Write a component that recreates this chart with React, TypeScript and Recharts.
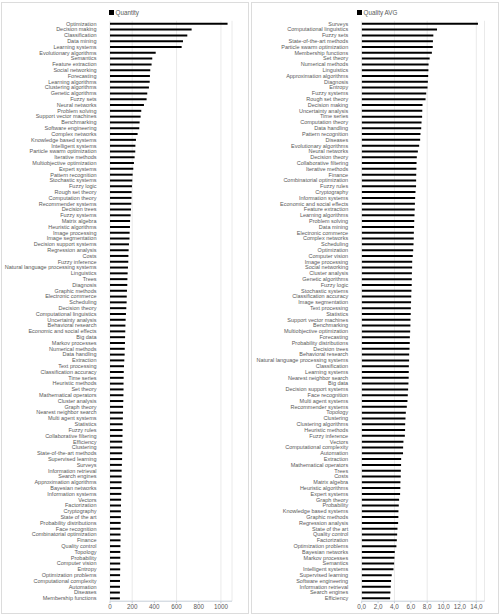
import React from "react";
import { BarChart, Bar, XAxis, YAxis, CartesianGrid, Legend } from "recharts";

// Topics ranked by number of papers
const quantityTopics = [
  "Optimization", "Decision making", "Classification", "Data mining", "Learning systems",
  "Evolutionary algorithms", "Semantics", "Feature extraction", "Social networking", "Forecasting",
  "Learning algorithms", "Clustering algorithms", "Genetic algorithms", "Fuzzy sets", "Neural networks",
  "Problem solving", "Support vector machines", "Benchmarking", "Software engineering", "Complex networks",
  "Knowledge based systems", "Intelligent systems", "Particle swarm optimization", "Iterative methods", "Multiobjective optimization",
  "Expert systems", "Pattern recognition", "Stochastic systems", "Fuzzy logic", "Rough set theory",
  "Computation theory", "Recommender systems", "Decision trees", "Fuzzy systems", "Matrix algebra",
  "Heuristic algorithms", "Image processing", "Image segmentation", "Decision support systems", "Regression analysis",
  "Costs", "Fuzzy inference", "Natural language processing systems", "Linguistics", "Trees",
  "Diagnosis", "Graphic methods", "Electronic commerce", "Scheduling", "Decision theory",
  "Computational linguistics", "Uncertainty analysis", "Behavioral research", "Economic and social effects", "Big data",
  "Markov processes", "Numerical methods", "Data handling", "Extraction", "Text processing",
  "Classification accuracy", "Time series", "Heuristic methods", "Set theory", "Mathematical operators",
  "Cluster analysis", "Graph theory", "Nearest neighbor search", "Multi agent systems", "Statistics",
  "Fuzzy rules", "Collaborative filtering", "Efficiency", "Clustering", "State-of-the-art methods",
  "Supervised learning", "Surveys", "Information retrieval", "Search engines", "Approximation algorithms",
  "Bayesian networks", "Information systems", "Vectors", "Factorization", "Cryptography",
  "State of the art", "Probability distributions", "Face recognition", "Combinatorial optimization", "Finance",
  "Quality control", "Topology", "Probability", "Computer vision", "Entropy",
  "Optimization problems", "Computational complexity", "Automation", "Diseases", "Membership functions",
];

const quantityValues = [
  1060, 736, 697, 658, 646,
  412, 381, 375, 363, 360,
  358, 351, 336, 330, 306,
  282, 276, 267, 264, 249,
  234, 229, 228, 222, 216,
  210, 204, 201, 198, 195,
  194, 192, 189, 186, 181,
  180, 177, 176, 171, 168,
  166, 165, 162, 159, 157,
  156, 153, 151, 150, 147,
  144, 141, 139, 138, 136,
  135, 133, 132, 129, 126,
  124, 123, 122, 122, 121,
  120, 118, 117, 116, 114,
  113, 113, 111, 110, 110,
  109, 107, 105, 105, 104,
  104, 102, 100, 99, 98,
  98, 96, 96, 95, 95,
  94, 93, 93, 92, 92,
  91, 90, 90, 89, 89,
];

// Topics ranked by average quality
const qualityTopics = [
  "Surveys", "Computational linguistics", "Fuzzy sets", "State-of-the-art methods", "Particle swarm optimization",
  "Membership functions", "Set theory", "Numerical methods", "Linguistics", "Approximation algorithms",
  "Diagnosis", "Entropy", "Fuzzy systems", "Rough set theory", "Decision making",
  "Uncertainty analysis", "Time series", "Computation theory", "Data handling", "Pattern recognition",
  "Diseases", "Evolutionary algorithms", "Neural networks", "Decision theory", "Collaborative filtering",
  "Iterative methods", "Finance", "Combinatorial optimization", "Fuzzy rules", "Cryptography",
  "Information systems", "Economic and social effects", "Feature extraction", "Learning algorithms", "Problem solving",
  "Data mining", "Electronic commerce", "Complex networks", "Scheduling", "Optimization",
  "Computer vision", "Image processing", "Social networking", "Cluster analysis", "Genetic algorithms",
  "Fuzzy logic", "Stochastic systems", "Classification accuracy", "Image segmentation", "Text processing",
  "Statistics", "Support vector machines", "Benchmarking", "Multiobjective optimization", "Forecasting",
  "Probability distributions", "Decision trees", "Behavioral research", "Natural language processing systems", "Classification",
  "Learning systems", "Nearest neighbor search", "Big data", "Decision support systems", "Face recognition",
  "Multi agent systems", "Recommender systems", "Topology", "Clustering", "Clustering algorithms",
  "Heuristic methods", "Fuzzy inference", "Vectors", "Computational complexity", "Automation",
  "Extraction", "Mathematical operators", "Trees", "Costs", "Matrix algebra",
  "Heuristic algorithms", "Expert systems", "Graph theory", "Probability", "Knowledge based systems",
  "Graphic methods", "Regression analysis", "State of the art", "Quality control", "Factorization",
  "Optimization problems", "Bayesian networks", "Markov processes", "Semantics", "Intelligent systems",
  "Supervised learning", "Software engineering", "Information retrieval", "Search engines", "Efficiency",
];

const qualityValues = [
  14.2, 9.2, 8.75, 8.7, 8.68,
  8.57, 8.3, 8.17, 8.15, 8.12,
  8.08, 8.04, 7.88, 7.8, 7.43,
  7.4, 7.38, 7.31, 7.27, 7.18,
  7.14, 7.02, 6.86, 6.73, 6.7,
  6.68, 6.66, 6.65, 6.64, 6.57,
  6.53, 6.5, 6.48, 6.45, 6.42,
  6.4, 6.37, 6.36, 6.33, 6.29,
  6.24, 6.17, 6.16, 6.13, 6.12,
  6.11, 6.08, 6.05, 6.03, 6.0,
  5.99, 5.96, 5.95, 5.92, 5.88,
  5.87, 5.84, 5.8, 5.79, 5.76,
  5.75, 5.74, 5.71, 5.67, 5.63,
  5.59, 5.51, 5.39, 5.35, 5.31,
  5.3, 5.27, 5.1, 5.06, 5.05,
  4.82, 4.81, 4.78, 4.77, 4.73,
  4.72, 4.69, 4.57, 4.53, 4.49,
  4.48, 4.45, 4.37, 4.33, 4.29,
  4.24, 4.04, 4.0, 3.96, 3.88,
  3.67, 3.59, 3.55, 3.51, 3.47,
];

const quantityTicks = [0, 200, 400, 600, 800, 1000];
const qualityTicks = [0, 2, 4, 6, 8, 10, 12, 14];

const FONT = "'Liberation Sans', Arial, sans-serif";
const TEXT = "#595959";

type PanelProps = {
  left: number;
  topics: string[];
  values: number[];
  seriesName: string;
  domainMax: number;
  ticks: number[];
  formatTick: (v: number) => string;
  axisWidth: number;
  rightMargin: number;
  legendLeft: number;
};

function LegendSwatch({ label }: { label: string }) {
  return (
    <div style={{ display: "flex", alignItems: "center", fontFamily: FONT, fontSize: 6.3, color: TEXT, whiteSpace: "nowrap" }}>
      <span style={{ display: "inline-block", width: 4.5, height: 4.5, background: "#000", marginRight: 2 }} />
      {label}
    </div>
  );
}

// Single-line category label (no wrapping)
function TopicTick(props: any) {
  const { x, y, payload } = props;
  return (
    <text x={x - 2.5} y={y} dy="0.35em" textAnchor="end" fontSize={5.5} fill={TEXT} fontFamily={FONT}>
      {payload.value}
    </text>
  );
}

function Panel(p: PanelProps) {
  const rows = p.topics.map((topic, i) => ({ topic, value: p.values[i] }));
  return (
    <div style={{ position: "absolute", left: p.left, top: 0, width: 250, height: 615 }}>
      <BarChart
        width={250}
        height={615}
        data={rows}
        layout="vertical"
        barCategoryGap="34%"
        margin={{ top: 20.8, right: p.rightMargin, bottom: 1.8, left: 0 }}
      >
        <CartesianGrid horizontal={false} stroke="#e4e4e4" strokeWidth={0.8} />
        <XAxis
          type="number"
          domain={[0, p.domainMax]}
          ticks={p.ticks}
          allowDataOverflow
          tickFormatter={p.formatTick}
          height={12}
          tickSize={2}
          tickMargin={1}
          stroke="#c5ced8"
          tick={{ fontSize: 6.3, fill: TEXT, fontFamily: FONT }}
        />
        <YAxis
          type="category"
          dataKey="topic"
          width={p.axisWidth}
          interval={0}
          axisLine={false}
          tickLine={false}
          tickMargin={5}
          tick={<TopicTick />}
        />
        <Legend
          layout="horizontal"
          verticalAlign="middle"
          align="center"
          wrapperStyle={{ top: 9, left: p.legendLeft, width: "auto" }}
          content={() => <LegendSwatch label={p.seriesName} />}
        />
        <Bar dataKey="value" name={p.seriesName} fill="#000000" isAnimationActive={false} />
      </BarChart>
    </div>
  );
}

export default function App() {
  return (
    <div style={{ position: "absolute", left: 0, top: 0, width: 500, height: 615, background: "#fff" }}>
      <div style={{ position: "absolute", left: 1, top: 2, width: 246, height: 610, border: "1px solid #dcdcdc" }} />
      <div style={{ position: "absolute", left: 251, top: 2, width: 246, height: 610, border: "1px solid #dcdcdc" }} />
      <Panel
        left={0}
        topics={quantityTopics}
        values={quantityValues}
        seriesName="Quantity"
        domainMax={1100}
        ticks={quantityTicks}
        formatTick={(v) => String(v)}
        axisWidth={110}
        rightMargin={18}
        legendLeft={109}
      />
      <Panel
        left={250}
        topics={qualityTopics}
        values={qualityValues}
        seriesName="Quality AVG"
        domainMax={15}
        ticks={qualityTicks}
        formatTick={(v) => v.toFixed(1).replace(".", ",")}
        axisWidth={111.7}
        rightMargin={15.5}
        legendLeft={107}
      />
    </div>
  );
}
